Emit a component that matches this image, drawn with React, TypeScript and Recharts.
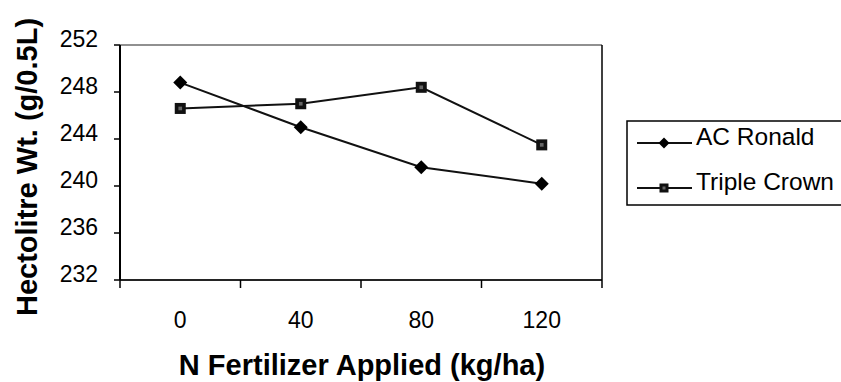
import React from 'react';
import { LineChart, Line, XAxis, YAxis, CartesianGrid } from 'recharts';

const nRates = [0, 40, 80, 120];
const xTickLabels = ['0', '40', '80', '120'];
const acRonald = [248.8, 245.0, 241.6, 240.2];
const tripleCrown = [246.6, 247.0, 248.4, 243.5];
const yTicks = [232, 236, 240, 244, 248, 252];

const data = nRates.map((n, i) => ({ n, acRonald: acRonald[i], tripleCrown: tripleCrown[i] }));

// category boundaries sit halfway between the rates
const step = nRates[1] - nRates[0];
const boundaries = [...nRates.map((n) => n - step / 2), nRates[nRates.length - 1] + step / 2];
const allXTicks = [...boundaries, ...nRates].sort((a, b) => a - b);

const FONT = 'Arial, "Liberation Sans", Helvetica, sans-serif';

const Diamond = ({ cx, cy, r = 7 }: any) => (
  <path d={`M${cx},${cy - r}L${cx + r},${cy}L${cx},${cy + r}L${cx - r},${cy}Z`} fill="#000" />
);

const Square = ({ cx, cy, s = 11 }: any) => (
  <g>
    <rect x={cx - s / 2} y={cy - s / 2} width={s} height={s} fill="#111" />
    <rect x={cx - s / 6} y={cy - s / 6} width={s / 3} height={s / 3} fill="#666" />
  </g>
);

const XTick = ({ x, y, payload }: any) => {
  const idx = nRates.indexOf(payload.value);
  if (idx < 0) {
    return <line x1={x} y1={y} x2={x} y2={y + 8} stroke="#000" strokeWidth={1.5} />;
  }
  return (
    <text x={x} y={y + 48} textAnchor="middle" fontSize={23} fontFamily={FONT} fill="#000">
      {xTickLabels[idx]}
    </text>
  );
};

const YTick = ({ x, y, payload }: any) => (
  <text x={x} y={y + 2} textAnchor="end" fontSize={23} fontFamily={FONT} fill="#000">
    {payload.value}
  </text>
);

const legendItems = [
  { name: 'AC Ronald', marker: 'diamond' },
  { name: 'Triple Crown', marker: 'square' },
];

export default function App() {
  return (
    <div style={{ position: 'absolute', left: 0, top: 0, width: 841, height: 382, background: '#fff', overflow: 'hidden' }}>
      <LineChart width={841} height={382} data={data} margin={{ top: 45, right: 238, bottom: 72, left: 0 }}>
        <CartesianGrid vertical={false} stroke="#222" strokeWidth={1.2} />
        <XAxis
          dataKey="n"
          type="number"
          domain={[boundaries[0], boundaries[boundaries.length - 1]]}
          ticks={allXTicks}
          interval={0}
          tick={<XTick />}
          tickLine={false}
          tickSize={0}
          tickMargin={0}
          height={30}
          axisLine={{ stroke: '#000', strokeWidth: 1.5 }}
        />
        <YAxis
          yAxisId="l"
          domain={[232, 252]}
          ticks={yTicks}
          interval={0}
          width={120}
          tickSize={6}
          tickMargin={16}
          tick={<YTick />}
          tickLine={{ stroke: '#000', strokeWidth: 1.5 }}
          axisLine={{ stroke: '#000', strokeWidth: 2 }}
        />
        <YAxis
          yAxisId="r"
          orientation="right"
          domain={[232, 252]}
          width={1}
          tick={false}
          tickLine={false}
          axisLine={{ stroke: '#000', strokeWidth: 1.5 }}
        />
        <Line
          yAxisId="l"
          dataKey="acRonald"
          stroke="#111"
          strokeWidth={2}
          dot={(p: any) => <Diamond key={`d${p.index}`} cx={p.cx} cy={p.cy} />}
          isAnimationActive={false}
        />
        <Line
          yAxisId="l"
          dataKey="tripleCrown"
          stroke="#111"
          strokeWidth={2}
          dot={(p: any) => <Square key={`s${p.index}`} cx={p.cx} cy={p.cy} />}
          isAnimationActive={false}
        />
      </LineChart>

      <svg width={841} height={382} style={{ position: 'absolute', left: 0, top: 0, pointerEvents: 'none' }}>
        <text
          transform="translate(37,167) rotate(-90)"
          textAnchor="middle"
          fontSize={29}
          fontWeight="bold"
          fontFamily={FONT}
          fill="#000"
        >
          Hectolitre Wt. (g/0.5L)
        </text>
        <text x={362} y={375} textAnchor="middle" fontSize={29} fontWeight="bold" fontFamily={FONT} fill="#000">
          N Fertilizer Applied (kg/ha)
        </text>

        <rect x={627} y={121} width={240} height={84} fill="#fff" stroke="#000" strokeWidth={1.5} />
        {legendItems.map((item, i) => {
          const cy = 143 + i * 45;
          return (
            <g key={item.name}>
              <line x1={637} y1={cy} x2={692} y2={cy} stroke="#111" strokeWidth={2} />
              {item.marker === 'diamond' ? <Diamond cx={664} cy={cy} r={5.5} /> : <Square cx={664} cy={cy} s={9} />}
              <text x={696} y={cy + 2} fontSize={24.5} fontFamily={FONT} fill="#000">
                {item.name}
              </text>
            </g>
          );
        })}
      </svg>
    </div>
  );
}
